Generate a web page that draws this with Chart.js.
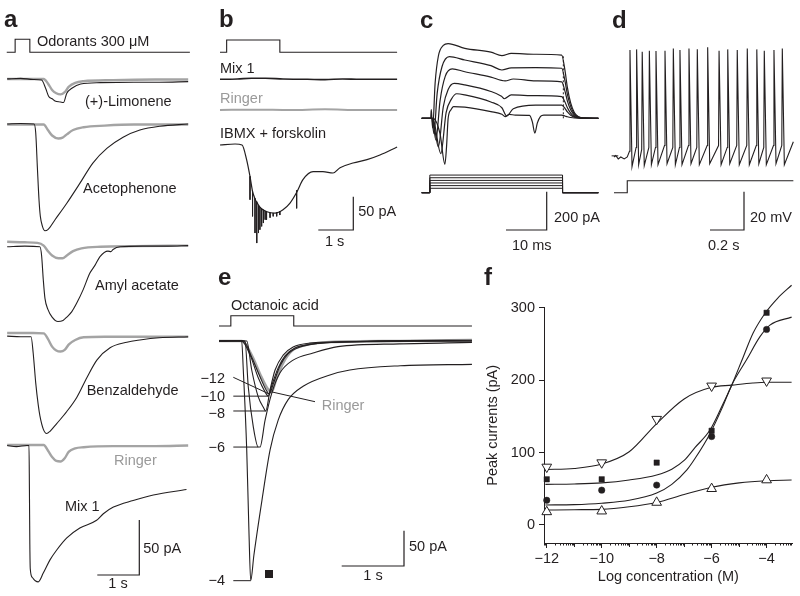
<!DOCTYPE html>
<html>
<head>
<meta charset="utf-8">
<title>Odorant responses</title>
<script src="https://cdn.jsdelivr.net/npm/chart.js@4.4.1/dist/chart.umd.min.js"></script>
<style>
  html, body { margin:0; padding:0; background:#ffffff; }
  #fig { position:relative; width:800px; height:596px; overflow:hidden; background:#fff;
         font-family:"Liberation Sans", Arial, Helvetica, sans-serif; color:#231f20; }
  #fig canvas { position:absolute; }
  .lbl { position:absolute; white-space:nowrap; line-height:1; }
</style>
</head>
<body>
<div id="fig"></div>
<script>
/* ================= DATA ================= */
/* Panel a : time (s) vs current (pA, relative to each trace's baseline) */
const aStimOnOff = [0.17, 0.52];
const aLimoneneBlack = [[-0.02,1],[0.3,1.5],[0.6,0.5],[0.8,0],[0.9,-8],[0.97,-15],[1.05,-17],[1.12,-19],[1.25,-20],[1.32,-20.5],[1.4,-12],[1.52,-7.5],[1.73,-3.6],[2.2,-2.4],[3.0,-2],[3.6,-2],[4.29,-1.5]];
const aLimoneneGray  = [[-0.02,0],[0.5,0],[0.85,0],[0.95,-4],[1.05,-10],[1.15,-13],[1.25,-14],[1.35,-12],[1.45,-7],[1.6,-3.5],[1.8,-2],[2.5,-1],[3.5,-0.5],[4.29,-0.5]];
const aAcetoBlack = [[-0.02,0],[0.3,0.5],[0.62,0],[0.66,-8],[0.7,-40],[0.74,-70],[0.77,-84],[0.82,-93],[0.88,-97],[0.95,-96],[1.12,-87],[1.4,-72],[1.71,-54],[2.02,-35.5],[2.36,-22],[2.74,-12],[3.14,-5.5],[3.62,-2],[4.29,0]];
const aAcetoGray  = [[-0.02,0],[0.6,0],[0.85,0],[0.95,-5],[1.05,-10],[1.2,-12.7],[1.3,-12],[1.4,-9],[1.55,-5],[1.8,-2.5],[2.3,-1],[3.0,0],[4.29,0]];
const aAmylBlack = [[-0.02,0],[0.4,0.5],[0.76,0],[0.8,-8],[0.84,-30],[0.88,-47],[0.95,-57],[1.05,-64],[1.19,-68],[1.31,-67],[1.4,-64],[1.52,-59],[1.64,-51],[1.79,-39],[1.95,-24],[2.07,-17],[2.19,-9],[2.38,-4],[2.45,-4.5],[2.5,-2.5],[2.67,0],[3.2,0.5],[3.8,0.5],[4.29,1]];
const aAmylGray  = [[-0.02,4.5],[0.4,4],[0.7,3.5],[0.85,1],[0.95,-4],[1.05,-8],[1.2,-10.5],[1.3,-10.5],[1.4,-8],[1.55,-4],[1.75,-1.5],[2.2,0],[3.0,0.5],[4.29,1]];
const aBenzBlack = [[-0.02,0.5],[0.3,0],[0.55,0],[0.6,-15],[0.66,-42],[0.72,-62],[0.76,-72],[0.84,-84],[0.92,-88],[1.0,-86],[1.16,-79],[1.4,-68],[1.64,-55],[1.88,-37],[2.12,-21],[2.43,-10],[2.83,-5],[3.14,-3],[3.6,-1],[4.29,0]];
const aBenzGray  = [[-0.02,3.4],[0.6,3.4],[0.85,3],[0.95,-2],[1.05,-9],[1.15,-12.5],[1.25,-13.5],[1.35,-12],[1.45,-7],[1.6,-3],[1.8,-0.5],[2.3,0],[4.29,0]];
const aRingerGray = [[-0.02,0],[0.6,0],[0.85,0],[0.95,-5],[1.05,-11],[1.15,-14.5],[1.25,-15],[1.35,-12],[1.45,-6],[1.6,-3],[1.8,-2],[2.5,-1],[3.5,-1],[4.29,-0.5]];
const aMix1Black = [[-0.02,0],[0.2,-1],[0.45,0],[0.5,0],[0.51,-40],[0.52,-90],[0.53,-112],[0.58,-120],[0.65,-123],[0.72,-124],[0.84,-116],[1.0,-104],[1.16,-95],[1.4,-84],[1.71,-75],[2.11,-68],[2.27,-62],[2.51,-56],[2.98,-50],[3.46,-45],[4.25,-40]];

/* Panel b : time (s) vs current (pA) */
const bStimOnOff = [0.19, 1.71];
const bMix1 = [[0,0],[0.5,0.5],[0.9,1.5],[1.3,1.5],[1.8,0.5],[2.5,0],[3.0,-0.5],[3.5,0.5],[4.0,0],[4.5,0],[5.06,0]];
const bRinger = [[0,0],[1.0,0.5],[2.0,0],[3.0,1],[4.0,0],[5.06,0]];
const bIBMX = [[0,0],[0.43,1.5],[0.63,0],[0.76,-22],[0.86,-48],[0.94,-72],[1.14,-93],[1.34,-100],[1.57,-102],[1.8,-97],[2.0,-87],[2.2,-70],[2.37,-52],[2.66,-40],[2.94,-40],[3.23,-42],[3.43,-34],[3.8,-27],[4.2,-22],[4.57,-15],[5.06,-3]];
/* spikelets on the IBMX trace: [time, top, bottom] */
const bSpikes = [[0.857,-47,-82],[0.93,-70,-107],[1.0,-80,-132],[1.05,-85,-147],[1.1,-90,-132],[1.14,-93,-127],[1.19,-95,-122],[1.24,-97,-117],[1.29,-99,-112],[1.33,-100,-112],[1.43,-101,-109],[1.52,-102,-107],[1.62,-101,-107],[1.71,-99,-105],[2.19,-68,-95]];

/* Panel c : time (ms) vs current (pA), six voltage steps */
const cStepOnOff = [2.0, 34.6];
const cStepLevels = [1.65, 2.65, 3.65, 4.6, 5.6, 6.6];
const cTraceA = [[0,0],[2.2,0],[2.35,45],[2.5,0],[2.7,-50],[3.3,184],[4.1,325],[5.3,380],[6.5,390],[10.6,365],[17,345],[19.7,327],[22,339],[28,334],[34.4,330],[35.2,250],[35.8,160],[36.6,80],[37.5,30],[38.5,8],[40,1],[43.4,0]];
const cTraceB = [[0,0],[2.5,0],[3.0,-80],[3.8,130],[5,270],[6.8,322],[10.6,304],[17,275],[19.7,252],[22,263],[28,264],[34.4,261],[35.2,195],[35.8,125],[36.6,62],[37.5,23],[38.5,6],[40,1],[43.4,0]];
const cTraceC = [[0,0],[2.55,0],[3.5,-114],[4.5,90],[5.8,220],[7.5,258],[10.6,243],[17,215],[20.5,195],[22.5,205],[28,195],[34.4,190],[35.2,142],[35.8,90],[36.6,45],[37.5,17],[38.5,5],[40,1],[43.4,0]];
const cTraceD = [[0,0],[2.6,0],[4.1,-149],[5.3,60],[6.5,150],[8,182],[10.6,174],[17,140],[19.6,115],[20.3,102],[22,122],[28,118],[34.4,113],[35.2,85],[35.8,55],[36.6,27],[37.5,10],[38.5,3],[40,0.5],[43.4,0]];
const cTraceE = [[0,0],[2.7,0],[4.7,-184],[6,30],[7.3,100],[8.6,128],[10.6,122],[17,85],[19.7,55],[20.9,12],[22.5,50],[28,69],[34.4,69],[35.2,52],[35.8,33],[36.6,16],[37.5,6],[38.5,2],[43.4,0]];
const cTraceF = [[0,0],[2.8,0],[4.5,-80],[5.7,-240],[6.1,-150],[6.5,0],[7.2,45],[7.8,61],[10.6,58],[17,35],[19.7,21],[20.5,9],[21.5,20],[23,17],[26.5,15],[27.2,-20],[27.8,-78],[28.4,-25],[29.2,10],[30,17],[34.4,17],[35.2,12],[35.8,8],[36.6,4],[37.5,1.5],[43.4,0]];
const cArtifact = [[34.8,0],[34.8,333]];

/* Panel d : time (s) vs membrane potential (mV, relative to rest) */
const dStepOn = 0.078;
const dPre = [[0,0],[0.01,0.8],[0.025,-1],[0.04,0],[0.06,-1],[0.078,0]];
const dSpikeT    = [0.094,0.133,0.166,0.208,0.247,0.300,0.349,0.388,0.441,0.490,0.551,0.618,0.669,0.725,0.784,0.840,0.884,0.941,0.990];
const dSpikePeak = [55.9,56.2,55.0,55.5,55.3,55.5,56.7,55.9,56.7,56.2,57.3,55.5,56.2,55.9,56.7,56.2,55.5,55.9,56.7];
const dFoot      = [3,5,4,5,5,6,5,5,6,5,6,6,5,6,6,6,5,6,6];
const dTrough    = [-5,-4,-4.5,-4,-4,-3.5,-4,-4,-3.5,-4,-3.5,-4,-3.5,-4,-4,-3.5,-4,-3.5,-4];
const dEnd = [1.055, 8];
const dRestMark = [[-0.014,0.6],[0.025,0.6]];

/* Panel e : time (s) vs current (pA); octanoic acid, log concentration */
const eStimOnOff = [0.19, 1.2];
const eLogConc = ['\u221212','\u221210','\u22128','\u22126','\u22124'];
const eM12 = [[0,0],[0.39,0],[0.53,-24],[0.66,-51],[0.755,-69],[0.807,-75],[0.87,-61],[0.98,-35],[1.11,-18],[1.3,-8.5],[1.62,-3],[2.26,-1],[3.0,0.5],[4.06,1]];
const eM10 = [[0,0],[0.364,0],[0.5,-20],[0.63,-52],[0.74,-72],[0.79,-78],[0.85,-62],[0.95,-38],[1.06,-21],[1.22,-10],[1.54,-4],[2.1,-1],[3.0,0.5],[4.06,0]];
const eM8  = [[0,0],[0.3,0.5],[0.445,0],[0.525,-41],[0.63,-79],[0.72,-95],[0.75,-99],[0.82,-69],[0.9,-41],[1.03,-20],[1.19,-8.5],[1.46,-3],[2.1,-1],[4.06,0]];
const eM6  = [[0,0],[0.3,0.5],[0.417,0],[0.47,-65],[0.55,-121],[0.63,-150],[0.658,-150],[0.74,-112],[0.846,-74],[0.98,-45],[1.19,-27],[1.51,-17],[1.91,-8],[2.9,-4],[4.06,-2]];
const eM4  = [[0,0],[0.2,0.5],[0.364,0],[0.39,-41],[0.445,-154],[0.48,-267],[0.509,-339],[0.56,-303],[0.69,-225],[0.82,-154],[0.95,-112],[1.11,-83],[1.35,-64],[1.78,-48],[2.1,-41],[2.91,-35],[4.06,-33]];
const eRinger = [[0,0],[0.364,0],[0.53,-21],[0.66,-47],[0.77,-66],[0.846,-72],[0.915,-55],[1.03,-31],[1.17,-14],[1.38,-6],[1.78,-1.5],[2.9,0],[4.06,1.5]];

/* Panel f : dose-response, log concentration (M) vs peak current (pA) */
const fConc   = [-12, -10, -8, -6, -4];
const fSquare = [63, 63, 86, 130, 293];
const fCircle = [34, 48, 55, 122, 270];
const fDownTri = [80, 86, 146, 192, 199];
const fUpTri   = [18, 19, 31, 50, 62];
const fSquareFit = [[-12.05,56],[-11,56.5],[-10,58],[-9,62],[-8,69],[-7.45,77],[-7,89],[-6.6,107],[-6.06,131],[-5.6,166],[-5.27,193],[-4.85,232],[-4.49,265],[-4.06,292],[-3.6,313],[-3.09,331]];
const fCircleFit = [[-12.05,27.5],[-11,28],[-10,30],[-9,34],[-8,44],[-7.45,56],[-6.9,76],[-6.6,92],[-6.06,126],[-5.6,163],[-5.27,193],[-4.73,228],[-4.24,260],[-3.88,276],[-3.09,287]];
const fDownFit = [[-12.05,76.5],[-11,78],[-10,84],[-9,101],[-8,140],[-7,174],[-6,190],[-5.27,193],[-4.5,196],[-4,197],[-3.09,197]];
const fUpFit   = [[-12.05,20.5],[-11,21],[-10,21.5],[-9,25],[-8,31],[-7,42],[-6,52],[-5,58],[-4,61],[-3.09,62]];
const fXTicks = [-12, -10, -8, -6, -4];
const fYTicks = [0, 100, 200, 300];

/* ================= DRAWING ================= */
const INK = '#231f20';
const GRAY = '#a4a4a4';
const fig = document.getElementById('fig');
Chart.defaults.font.family = '"Liberation Sans", Arial, Helvetica, sans-serif';
Chart.defaults.color = INK;

function addLabel(text, x, baseline, o = {}) {
  const fs = o.size || 14.5;
  const d = document.createElement('div');
  d.className = 'lbl';
  d.textContent = text;
  d.style.fontSize = fs + 'px';
  if (o.bold) d.style.fontWeight = 'bold';
  d.style.color = o.color || INK;
  d.style.top = (baseline - 0.8465 * fs).toFixed(2) + 'px';
  if (o.right) d.style.right = (800 - x) + 'px'; else d.style.left = x + 'px';
  fig.appendChild(d);
}

function makeCanvas(L, T, W, H) {
  const c = document.createElement('canvas');
  c.width = W; c.height = H;
  c.style.left = L + 'px'; c.style.top = T + 'px';
  c.style.width = W + 'px'; c.style.height = H + 'px';
  fig.appendChild(c);
  return c;
}

function stepPts(on, off, start, end, level) {
  return [[start,0],[on,0],[on,level],[off,level],[off,0],[end,0]];
}

/* P: panel geometry; series in data units, each with a baseline (page px) */
function tracePanel(P) {
  const X = px => (px - P.x0) / P.xppu;
  const Y = py => -(py - P.top) / P.yppu;
  const datasets = [];
  const push = (data, o) => datasets.push(Object.assign({
    data, borderColor: INK, borderWidth: 1.1, pointRadius: 0, fill: false,
    tension: 0, spanGaps: false, clip: false }, o));
  P.series.forEach(s => {
    const k = (s.ppu || P.yppu) / P.yppu;
    const off = Y(s.base);
    const data = [];
    s.pts.forEach(p => {
      if (p === null) data.push({ x: data.length ? data[data.length - 1].x : 0, y: null });
      else data.push({ x: p[0], y: off + p[1] * k });
    });
    push(data, { borderColor: s.color || INK, borderWidth: s.width || 1.1,
      cubicInterpolationMode: s.smooth ? 'monotone' : 'default', borderDash: s.dash || [] });
  });
  (P.bars || []).forEach(b => {
    const cx = X(b.x), cy = Y(b.y);
    push([{ x: cx - b.lx, y: cy }, { x: cx, y: cy }, { x: cx, y: cy + b.ly }], { borderWidth: 1.2 });
  });
  (P.leaders || []).forEach(l => {
    const ty = Y(l.base) + l.v;
    const fy = l.py == null ? ty : Y(l.py);
    push([{ x: X(l.px), y: fy }, { x: l.t, y: ty }], { borderWidth: 1, borderColor: l.color || INK });
  });
  datasets.forEach((d, i) => { d.order = datasets.length - i; });
  const cv = makeCanvas(P.left, P.top, P.w, P.h);
  new Chart(cv, {
    type: 'line',
    data: { datasets },
    options: {
      responsive: false, maintainAspectRatio: false, animation: false, events: [],
      devicePixelRatio: 1, layout: { padding: 0 },
      plugins: { legend: { display: false }, tooltip: { enabled: false } },
      scales: {
        x: { type: 'linear', display: false, min: X(P.left), max: X(P.left + P.w) },
        y: { type: 'linear', display: false, min: Y(P.top + P.h), max: 0 }
      }
    }
  });
}

/* ---- Panel a ---- */
tracePanel({
  left: 0, top: 30, w: 205, h: 566, x0: 8, xppu: 42, yppu: 1.1,
  series: [
    { pts: stepPts(aStimOnOff[0], aStimOnOff[1], -0.03, 4.33, 1), base: 52.3, ppu: 13 },
    { pts: aLimoneneGray, base: 79, color: GRAY, width: 2.4, smooth: true },
    { pts: aLimoneneBlack, base: 80, smooth: true },
    { pts: aAcetoGray, base: 124.5, color: GRAY, width: 2.4, smooth: true },
    { pts: aAcetoBlack, base: 124, smooth: true },
    { pts: aAmylGray, base: 246.7, color: GRAY, width: 2.4, smooth: true },
    { pts: aAmylBlack, base: 246.7, smooth: true },
    { pts: aBenzGray, base: 336.7, color: GRAY, width: 2.4, smooth: true },
    { pts: aBenzBlack, base: 336.7, smooth: true },
    { pts: aRingerGray, base: 445, color: GRAY, width: 2.4, smooth: true },
    { pts: aMix1Black, base: 445.5, smooth: true }
  ],
  bars: [{ x: 139.3, y: 575, lx: 1, ly: 50 }]
});

/* ---- Panel b ---- */
const bSpikePts = [];
bSpikes.forEach(s => { bSpikePts.push([s[0], s[1]], [s[0], s[2]], null); });
tracePanel({
  left: 210, top: 30, w: 195, h: 230, x0: 220, xppu: 35, yppu: 0.667,
  series: [
    { pts: stepPts(bStimOnOff[0], bStimOnOff[1], 0, 5.06, 1), base: 52.3, ppu: 12.3 },
    { pts: bMix1, base: 79.3, width: 1.6, smooth: true },
    { pts: bRinger, base: 110, color: GRAY, width: 2, smooth: true },
    { pts: bIBMX, base: 145, width: 1.2, smooth: true },
    { pts: bSpikePts, base: 145, width: 1 }
  ],
  bars: [{ x: 353.3, y: 230, lx: 1, ly: 50 }]
});

/* ---- Panel c ---- */
const cSeries = cStepLevels.map(L => ({ pts: stepPts(cStepOnOff[0], cStepOnOff[1], 0, 43.4, L), base: 192.7, ppu: 2.67, width: 1 }));
[cTraceF, cTraceE, cTraceD, cTraceC, cTraceB, cTraceA].forEach(t => cSeries.push({ pts: t, base: 118.3, smooth: true, width: 1.2 }));
cSeries.push({ pts: cArtifact, base: 118.3, width: 1, dash: [2, 2] });
tracePanel({
  left: 415, top: 30, w: 195, h: 230, x0: 421.7, xppu: 4.07, yppu: 0.1917,
  series: cSeries,
  bars: [{ x: 546.7, y: 230, lx: 10, ly: 200 }]
});

/* ---- Panel d ---- */
const dPts = dPre.slice();
dSpikeT.forEach((t, i) => { dPts.push([t - 0.003, dFoot[i]], [t, dSpikePeak[i]], [t + 0.012, dTrough[i]]); });
dPts.push(dEnd);
tracePanel({
  left: 605, top: 30, w: 195, h: 230, x0: 614, xppu: 170, yppu: 1.915,
  series: [
    { pts: dRestMark, base: 157, width: 1 },
    { pts: dPts, base: 157, width: 1.1 },
    { pts: [[0,0],[dStepOn,0],[dStepOn,1],[1.055,1]], base: 192.7, ppu: 12, width: 1.1 }
  ],
  bars: [{ x: 744, y: 230, lx: 0.2, ly: 20 }]
});

/* ---- Panel e ---- */
const eTraces = [eM12, eM10, eM8, eM6, eM4];
const eMin = tr => tr.reduce((m, p) => (p[1] < m[1] ? p : m), tr[0]);
const eLeaders = eTraces.map((tr, i) => {
  const m = eMin(tr);
  return { px: 233.3, py: i === 0 ? 377.3 : null, t: m[0], v: m[1], base: 341 };
});
const rMin = eMin(eRinger);
eLeaders.push({ px: 315, py: 401.7, t: rMin[0], v: rMin[1], base: 341, color: INK });
tracePanel({
  left: 200, top: 300, w: 280, h: 296, x0: 219, xppu: 62.3, yppu: 0.707,
  series: [
    { pts: stepPts(eStimOnOff[0], eStimOnOff[1], 0, 4.06, 1), base: 326, ppu: 10.3 },
    { pts: eRinger, base: 341, color: GRAY, width: 2.6, smooth: true },
    ...eTraces.map(t => ({ pts: t, base: 341, smooth: true, width: 1.1 }))
  ],
  bars: [{ x: 404, y: 566, lx: 1, ly: 50 }],
  leaders: eLeaders
});
(function () {
  const sq = document.createElement('div');
  sq.style.cssText = 'position:absolute;left:265px;top:570px;width:8px;height:8px;background:' + INK + ';';
  fig.appendChild(sq);
})();

/* ---- Panel f ---- */
const minorTicks = {
  id: 'minorTicks',
  afterDraw(chart) {
    const s = chart.scales.x, ctx = chart.ctx;
    ctx.save();
    ctx.strokeStyle = INK; ctx.lineWidth = 1;
    ctx.beginPath();
    for (let k = -13; k <= -3; k++) {
      for (let m = 1; m <= 9; m++) {
        const v = k + Math.log10(m);
        if (v < s.min || v > s.max) continue;
        if (m === 1 && fXTicks.includes(k)) continue;
        const px = Math.round(s.getPixelForValue(v)) + 0.5;
        const len = m === 1 ? 4 : 2.5;
        ctx.moveTo(px, s.top); ctx.lineTo(px, s.top + len);
      }
    }
    ctx.stroke();
    ctx.restore();
  }
};
const fmtMinus = v => (v < 0 ? '\u2212' + Math.abs(v) : String(v));
const curveDS = pts => ({ data: pts.map(p => ({ x: p[0], y: p[1] })), borderColor: INK, borderWidth: 1.1,
  pointRadius: 0, fill: false, cubicInterpolationMode: 'monotone', clip: false, order: 2 });
const markDS = (vals, style, r, filled, rot) => ({ showLine: false, data: fConc.map((c, i) => ({ x: c, y: vals[i] })),
  pointStyle: style, pointRadius: r, pointRotation: rot || 0,
  pointBackgroundColor: filled ? INK : '#ffffff', pointBorderColor: INK, pointBorderWidth: filled ? 0.5 : 1,
  clip: false, order: 1 });
const axisCommon = {
  grid: { display: true, drawOnChartArea: false, drawTicks: true, tickLength: 5, color: INK, lineWidth: 1 },
  border: { display: true, color: INK, width: 1 }
};
new Chart(makeCanvas(480, 260, 320, 336), {
  type: 'line',
  data: { datasets: [
    curveDS(fSquareFit), curveDS(fCircleFit), curveDS(fDownFit), curveDS(fUpFit),
    markDS(fSquare, 'rect', 3.8, true), markDS(fCircle, 'circle', 3.2, true),
    markDS(fDownTri, 'triangle', 5.6, false, 180), markDS(fUpTri, 'triangle', 5.6, false, 0)
  ] },
  options: {
    responsive: false, maintainAspectRatio: false, animation: false, events: [], devicePixelRatio: 1,
    layout: { padding: { left: 0, right: 7.3, top: 47.7, bottom: 0 } },
    plugins: { legend: { display: false }, tooltip: { enabled: false } },
    scales: {
      x: Object.assign({
        type: 'linear', position: 'bottom', min: -12.1, max: -3.05,
        afterBuildTicks: s => { s.ticks = fXTicks.map(v => ({ value: v })); },
        afterFit: s => { s.height = 53; },
        ticks: { color: INK, font: { size: 14.5 }, padding: 2, maxRotation: 0, autoSkip: false, callback: v => fmtMinus(v) },
        title: { display: true, text: 'Log concentration (M)', color: INK, font: { size: 14.5 }, padding: { top: 0, bottom: 10 } }
      }, axisCommon),
      y: Object.assign({
        type: 'linear', position: 'left', min: -25, max: 300,
        afterBuildTicks: s => { s.ticks = fYTicks.map(v => ({ value: v })); },
        afterFit: s => { s.width = 64; },
        ticks: { color: INK, font: { size: 14.5 }, padding: 4 },
        title: { display: true, text: 'Peak currents (pA)', color: INK, font: { size: 14.5 }, padding: { top: 4.5, bottom: 0 } }
      }, axisCommon)
    }
  },
  plugins: [minorTicks]
});

/* ---- Text ---- */
const P_LETTER = { size: 24, bold: true };
addLabel('a', 4, 27.5, P_LETTER);
addLabel('b', 219, 27.5, P_LETTER);
addLabel('c', 420, 28, P_LETTER);
addLabel('d', 612, 28, P_LETTER);
addLabel('e', 218, 285, P_LETTER);
addLabel('f', 484, 285, P_LETTER);

addLabel('Odorants 300 \u03bcM', 37, 46.5);
addLabel('(+)-Limonene', 85, 106.5);
addLabel('Acetophenone', 83, 193);
addLabel('Amyl acetate', 95, 290);
addLabel('Benzaldehyde', 86.7, 395);
addLabel('Ringer', 114, 465, { color: '#9a9a9a' });
addLabel('Mix 1', 65, 511.7);
addLabel('50 pA', 143.3, 553.3);
addLabel('1 s', 108.3, 588);

addLabel('Mix 1', 220, 73.3);
addLabel('Ringer', 220, 103.3, { color: '#9a9a9a' });
addLabel('IBMX + forskolin', 220, 138.3);
addLabel('50 pA', 358.3, 216.7);
addLabel('1 s', 325, 246.7);

addLabel('200 pA', 554, 222.7);
addLabel('10 ms', 512, 250);
addLabel('20 mV', 750, 222.7);
addLabel('0.2 s', 708, 250);

addLabel('Octanoic acid', 231, 310);
const eLabelBase = [383.3, 401.7, 418.3, 452.7, 585];
eLogConc.forEach((t, i) => addLabel(t, 225, eLabelBase[i], { right: true }));
addLabel('Ringer', 321.7, 410, { color: '#9a9a9a' });
addLabel('50 pA', 409, 551);
addLabel('1 s', 363.3, 580);
</script>
</body>
</html>
